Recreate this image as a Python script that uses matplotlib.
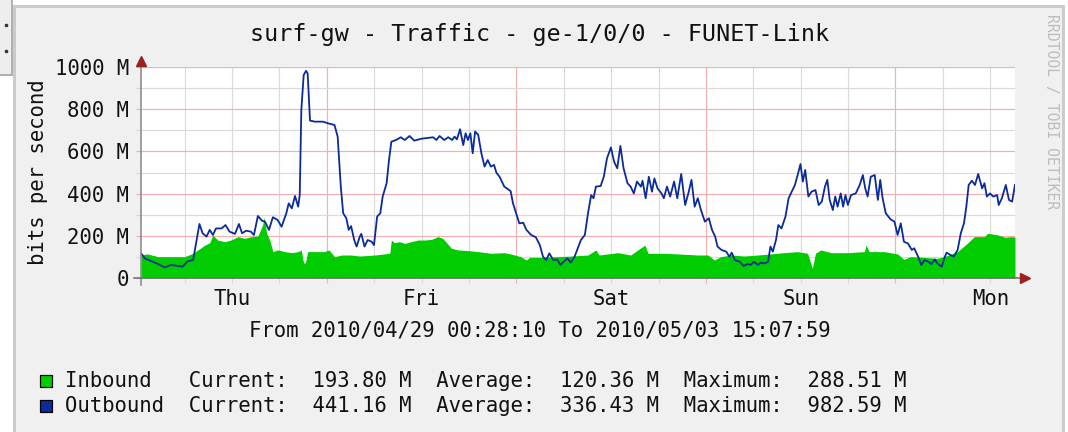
import matplotlib
matplotlib.use('Agg')
import matplotlib.pyplot as plt
import matplotlib.dates as mdates
import numpy as np
import pandas as pd
from matplotlib.patches import Rectangle
from matplotlib.lines import Line2D
from matplotlib.ticker import MultipleLocator, FuncFormatter

# ---------------- data ----------------
title = "surf-gw - Traffic - ge-1/0/0 - FUNET-Link"
y_label = "bits per second"
period_text = "From 2010/04/29 00:28:10 To 2010/05/03 15:07:59"
side_text = "RRDTOOL / TOBI OETIKER"
start_time = "2010-04-29 00:28:10"
end_time = "2010-05-03 15:07:59"

series_names = ["Inbound", "Outbound"]
current_vals = ["193.80 M", "441.16 M"]
average_vals = ["120.36 M", "336.43 M"]
maximum_vals = ["288.51 M", "982.59 M"]

# hours since start, outbound (Mbit/s)
out_hours = [
    0.0, 0.5, 1.3, 2.2, 3.0, 3.8, 4.7, 5.3, 5.9, 6.6,
    7.0, 7.4, 7.8, 8.3, 8.7, 9.1, 9.5, 10.2, 10.7, 11.2,
    11.9, 12.4, 12.8, 13.3, 13.9, 14.3, 14.8, 15.3, 15.7, 16.2,
    16.7, 17.3, 17.8, 18.4, 18.7, 19.1, 19.5, 19.9, 20.1, 20.3,
    20.6, 20.9, 21.1, 21.4, 22.0, 23.0, 23.7, 24.5, 24.9, 25.3,
    25.6, 26.0, 26.3, 26.6, 27.0, 27.3, 27.7, 27.9, 28.3, 28.7,
    29.2, 29.5, 29.9, 30.3, 30.6, 31.1, 31.4, 31.7, 32.3, 32.9,
    33.4, 34.0, 34.6, 35.5, 36.3, 37.0, 37.4, 37.8, 38.4, 38.9,
    39.4, 39.7, 40.0, 40.4, 40.8, 41.1, 41.4, 41.7, 42.0, 42.3,
    42.7, 43.1, 43.5, 43.9, 44.3, 44.7, 45.0, 45.4, 46.0, 46.8,
    47.1, 47.5, 47.9, 48.4, 48.8, 49.4, 50.0, 50.5, 50.9, 51.3,
    51.7, 52.2, 52.7, 53.1, 53.5, 54.0, 54.4, 54.9, 55.3, 55.7,
    56.2, 56.6, 57.0, 57.3, 57.6, 58.2, 58.6, 59.0, 59.5, 59.9,
    60.3, 60.7, 61.1, 61.6, 62.0, 62.4, 62.8, 63.3, 63.5, 63.9,
    64.3, 64.7, 65.0, 65.4, 65.9, 66.2, 66.6, 67.0, 67.5, 67.9,
    68.4, 68.9, 69.3, 69.7, 70.1, 70.5, 70.9, 71.4, 71.9, 72.3,
    72.7, 73.0, 73.5, 74.1, 74.5, 74.8, 75.2, 75.8, 76.3, 76.8,
    77.2, 77.6, 78.1, 78.5, 78.9, 79.4, 79.7, 80.0, 80.4, 80.7,
    81.1, 81.6, 82.0, 82.4, 82.8, 83.2, 83.5, 83.8, 84.1, 84.5,
    84.9, 85.4, 85.8, 86.2, 86.6, 86.9, 87.2, 87.6, 87.9, 88.2,
    88.6, 88.9, 89.2, 89.5, 89.9, 90.5, 91.0, 91.4, 91.7, 92.0,
    92.4, 92.9, 93.3, 93.6, 93.9, 94.3, 94.9, 95.4, 95.8, 96.2,
    96.6, 97.1, 97.6, 97.9, 98.4, 98.8, 99.2, 99.7, 100.1, 100.5,
    100.9, 101.4, 101.7, 102.0, 102.5, 102.9, 103.4, 103.8, 104.2, 104.5,
    104.8, 105.2, 105.6, 106.0, 106.5, 106.8, 107.1, 107.5, 107.9, 108.4,
    108.6, 109.0, 109.5, 109.9, 110.3, 110.66,
]
out_vals = [
    117, 93, 80, 66, 50, 62, 57, 54, 80, 85,
    172, 256, 212, 196, 228, 204, 235, 235, 251, 220,
    209, 256, 212, 224, 220, 204, 294, 272, 267, 228,
    288, 275, 243, 307, 354, 330, 389, 338, 393, 796,
    962, 982, 970, 746, 741, 741, 733, 725, 670, 433,
    307, 283, 228, 246, 180, 149, 196, 209, 149, 180,
    172, 156, 291, 307, 386, 449, 559, 646, 654, 667,
    654, 673, 651, 660, 664, 667, 654, 673, 654, 667,
    654, 670, 657, 705, 630, 686, 654, 686, 591, 694,
    678, 591, 528, 559, 528, 536, 499, 480, 433, 412,
    354, 307, 259, 262, 228, 204, 193, 156, 101, 85,
    117, 85, 88, 62, 77, 93, 73, 101, 140, 180,
    204, 307, 393, 378, 433, 436, 480, 567, 619, 551,
    520, 626, 520, 449, 433, 401, 457, 433, 461, 378,
    480, 409, 472, 425, 401, 378, 433, 386, 457, 378,
    493, 346, 401, 465, 338, 378, 322, 267, 283, 228,
    196, 149, 133, 125, 101, 120, 85, 77, 57, 66,
    62, 77, 62, 73, 69, 77, 149, 125, 180, 251,
    235, 291, 378, 409, 441, 496, 540, 457, 512, 386,
    409, 417, 346, 362, 433, 465, 370, 322, 386, 338,
    401, 338, 393, 346, 393, 401, 441, 488, 425, 386,
    480, 488, 370, 465, 378, 307, 278, 267, 204, 259,
    172, 164, 133, 141, 101, 62, 85, 77, 66, 88,
    66, 54, 93, 120, 109, 101, 133, 212, 259, 338,
    441, 461, 441, 493, 425, 449, 386, 401, 386, 393,
    346, 378, 441, 370, 362, 441,
]

# hours since start, inbound (Mbit/s)
in_hours = [
    0.0, 0.8, 2.2, 3.8, 5.5, 6.6, 7.2, 8.1, 8.7, 9.1,
    9.7, 10.6, 11.4, 12.3, 13.1, 14.0, 14.8, 15.4, 15.6, 15.9,
    16.3, 16.7, 17.3, 18.2, 19.1, 19.9, 20.3, 20.5, 20.7, 20.9,
    21.1, 22.0, 23.2, 23.8, 24.5, 25.4, 26.6, 27.7, 29.6, 31.5,
    31.7, 32.1, 32.7, 33.4, 34.2, 35.1, 35.9, 36.8, 37.6, 38.2,
    38.7, 39.3, 40.1, 41.4, 42.7, 44.3, 46.0, 46.8, 48.1, 48.8,
    49.2, 50.7, 52.8, 54.5, 56.6, 57.6, 58.0, 60.4, 62.0, 63.8,
    64.2, 66.3, 68.0, 70.5, 71.8, 72.6, 73.4, 74.7, 76.4, 78.1,
    79.7, 81.4, 83.1, 84.4, 84.8, 85.0, 85.4, 86.1, 87.4, 89.5,
    91.6, 91.8, 92.2, 94.1, 95.8, 96.6, 97.4, 99.1, 100.8, 101.7,
    103.4, 104.7, 105.5, 106.8, 107.2, 108.5, 109.4, 110.2, 110.66,
]
in_vals = [
    109, 114, 101, 101, 101, 117, 133, 156, 167, 204,
    180, 172, 180, 196, 188, 196, 199, 251, 288, 212,
    180, 125, 133, 125, 120, 125, 133, 85, 66, 85,
    125, 125, 125, 133, 101, 109, 109, 104, 109, 117,
    180, 167, 172, 164, 172, 180, 180, 183, 196, 188,
    167, 141, 133, 130, 125, 117, 120, 114, 101, 85,
    98, 98, 101, 104, 109, 133, 109, 120, 109, 156,
    117, 117, 114, 109, 109, 85, 101, 109, 104, 109,
    114, 120, 125, 117, 70, 46, 117, 133, 120, 120,
    125, 156, 125, 125, 114, 88, 101, 98, 93, 101,
    125, 167, 196, 196, 212, 204, 193, 196, 194,
]

y_max = 1000

# ---------------- layout helpers ----------------
W, H = 1068, 432
fig = plt.figure(figsize=(W / 100, H / 100), dpi=100)
fig.patch.set_facecolor('white')
MONO = 'DejaVu Sans Mono'


def fx(px):
    return px / W


def fy(py):
    return 1 - py / H


def px2pt(p):
    return p * 72 / 100


# outer panel
fig.patches.append(Rectangle((fx(14), fy(440)), (1063 - 14) / W, (440 - 6) / H,
                             transform=fig.transFigure, facecolor='#F0F0F0',
                             edgecolor='#CBCBCB', linewidth=px2pt(3), zorder=-10))
# small grey box at top-left
fig.patches.append(Rectangle((fx(-5), fy(75)), 17 / W, 80 / H,
                             transform=fig.transFigure, facecolor='#EEEEEE',
                             edgecolor='#B0B0B0', linewidth=px2pt(2), zorder=-10))
for yy in (25, 51):
    fig.add_artist(Line2D([fx(6)], [fy(yy)], marker='o', markersize=1.6,
                          color='#333333', transform=fig.transFigure))

# ---------------- axes ----------------
t0 = pd.Timestamp(start_time)
t1 = pd.Timestamp(end_time)
out_t = t0 + pd.to_timedelta(np.array(out_hours), unit='h')
in_t = t0 + pd.to_timedelta(np.array(in_hours), unit='h')

ax = fig.add_axes([fx(141), fy(278), (1015 - 141) / W, (278 - 67) / H])
ax.set_zorder(1)
ax.set_facecolor('white')
ax.fill_between(in_t, in_vals, 0, color='#00CC00', linewidth=0, zorder=2)
ax.plot(out_t, out_vals, color='#0A2B9A', linewidth=1.3, zorder=3)

ax.set_xlim(t0, t1)
ax.set_ylim(0, y_max)

ax.xaxis.set_major_locator(mdates.DayLocator())
ax.xaxis.set_minor_locator(mdates.HourLocator(byhour=[6, 12, 18]))
ax.xaxis.set_major_formatter(FuncFormatter(lambda v, p: ''))


def day_fmt(v, p):
    d = mdates.num2date(v)
    return d.strftime('%a') if d.hour == 12 else ''


ax.xaxis.set_minor_formatter(FuncFormatter(day_fmt))
ax.yaxis.set_major_locator(MultipleLocator(200))
ax.yaxis.set_minor_locator(MultipleLocator(100))
ax.yaxis.set_major_formatter(FuncFormatter(lambda v, p: '0' if v == 0 else f'{int(v)} M'))

red_grid = '#F2B0B0'
grey_grid = '#DADADA'
ax.grid(which='major', color=red_grid, linewidth=px2pt(1.2))
ax.grid(which='minor', color=grey_grid, linewidth=px2pt(1.2))
ax.set_axisbelow(True)

for sp in ax.spines.values():
    sp.set_visible(False)

ax.tick_params(which='both', direction='out', length=px2pt(5), width=px2pt(1.2),
               labelsize=14.9, labelcolor='#111111')
ax.tick_params(which='major', color=red_grid)
ax.tick_params(which='minor', color=grey_grid)
ax.tick_params(axis='y', which='both', pad=px2pt(7))
ax.tick_params(axis='x', which='both', pad=px2pt(6))
for lab in ax.get_xticklabels(which='both') + ax.get_yticklabels():
    lab.set_fontfamily(MONO)

# axis lines with arrows
fig.add_artist(Line2D([fx(141), fx(141)], [fy(285), fy(62)], color='#8A8A8A',
                      linewidth=px2pt(1.6), transform=fig.transFigure, zorder=5))
fig.add_artist(Line2D([fx(134), fx(1024)], [fy(278), fy(278)], color='#707070',
                      linewidth=px2pt(1.6), transform=fig.transFigure, zorder=5))
fig.add_artist(Line2D([fx(141)], [fy(61)], marker='^', markersize=6.5,
                      color='#9B2020', transform=fig.transFigure, linewidth=0, zorder=5))
fig.add_artist(Line2D([fx(1025)], [fy(278)], marker='>', markersize=6.5,
                      color='#9B2020', transform=fig.transFigure, linewidth=0, zorder=5))

# ---------------- texts ----------------
fig.text(fx(540), fy(35), title, ha='center', va='center', fontsize=16.8,
         family=MONO, color='#111111')
fig.text(fx(38), fy(172), y_label, ha='center', va='center', rotation=90,
         fontsize=14.9, family=MONO, color='#111111')
fig.text(fx(540), fy(331), period_text, ha='center', va='center', fontsize=14.9,
         family=MONO, color='#111111')
fig.text(fx(1051), fy(112), side_text, ha='center', va='center', rotation=270,
         fontsize=10.6, family=MONO, color='#BDBDBD')

legend_colors = ['#00CC00', '#0A2B9A']
for i, name in enumerate(series_names):
    yc = 381 + 25 * i
    fig.patches.append(Rectangle((fx(40), fy(yc + 6)), 12 / W, 12 / H,
                                 transform=fig.transFigure,
                                 facecolor=legend_colors[i], edgecolor='black',
                                 linewidth=px2pt(1.2)))
    row = (f"{name:<10}Current:  {current_vals[i]}  Average:  {average_vals[i]}"
           f"  Maximum:  {maximum_vals[i]}")
    fig.text(fx(65), fy(yc), row, ha='left', va='center', fontsize=14.9,
             family=MONO, color='#111111')

fig.savefig('out.png', dpi=100, facecolor=fig.get_facecolor())
